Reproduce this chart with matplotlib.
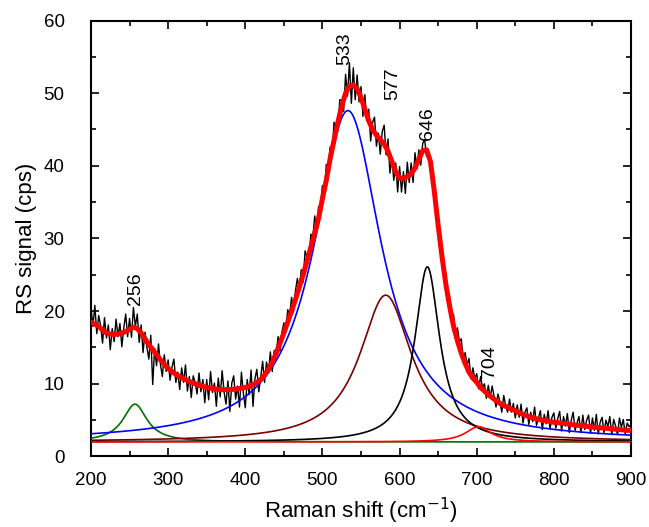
import numpy as np
import matplotlib
matplotlib.use("Agg")
import matplotlib.pyplot as plt

plt.rcParams['font.family'] = ['Liberation Sans', 'DejaVu Sans']

# measured spectrum, 2.5 cm-1 step from 200 to 900
shift_start, shift_step = 200.0, 2.5
signal = [
    20.5, 17.9, 20.8, 16.9, 19.4, 18.0, 15.6, 19.1, 16.3, 18.1, 14.7, 17.6, 15.8, 18.9, 16.5, 18.3, 15.1, 17.7, 19.6, 16.5,
    19.0, 16.4, 20.5, 17.9, 19.6, 15.7, 18.1, 14.3, 17.1, 15.0, 13.4, 16.7, 9.9, 14.9, 12.5, 15.5, 12.7, 11.0, 14.0, 11.7,
    13.3, 10.5, 12.3, 13.4, 10.2, 11.6, 9.2, 12.2, 10.2, 12.6, 9.0, 11.0, 8.1, 11.1, 10.2, 8.6, 11.5, 8.9, 10.6, 7.4,
    10.6, 7.8, 11.7, 8.8, 10.1, 6.9, 10.8, 8.2, 11.8, 8.9, 7.2, 10.4, 6.2, 10.1, 11.1, 7.9, 9.7, 6.8, 11.6, 8.7,
    6.7, 10.6, 8.5, 11.9, 6.9, 10.7, 12.0, 8.9, 10.9, 13.1, 10.2, 13.0, 11.5, 14.4, 11.7, 14.6, 14.0, 16.5, 14.5, 17.1,
    18.4, 17.2, 20.2, 19.5, 21.9, 19.9, 22.8, 24.5, 22.9, 25.7, 24.0, 28.3, 27.4, 27.1, 30.6, 30.1, 33.1, 31.2, 34.4, 34.5,
    37.3, 36.3, 40.2, 39.9, 42.6, 41.3, 46.0, 45.1, 44.8, 49.1, 49.0, 47.5, 52.6, 49.6, 54.2, 48.6, 53.5, 49.1, 52.5, 48.8,
    50.9, 46.8, 49.8, 46.2, 47.8, 43.4, 46.0, 46.7, 42.7, 44.5, 41.6, 44.7, 45.6, 41.5, 43.7, 39.0, 41.1, 38.0, 40.4, 36.4,
    39.9, 36.4, 39.2, 36.2, 40.5, 37.7, 40.4, 37.7, 41.8, 39.6, 42.2, 40.1, 43.1, 43.6, 41.3, 41.9, 40.2, 39.2, 36.2, 34.6,
    32.4, 29.4, 28.3, 25.8, 24.6, 21.8, 21.9, 19.8, 19.5, 16.7, 17.7, 15.8, 16.2, 13.2, 14.3, 12.6, 13.5, 10.7, 12.2, 10.7,
    11.4, 9.3, 11.0, 9.5, 10.0, 8.0, 9.8, 8.1, 9.7, 8.3, 6.8, 8.6, 7.6, 6.1, 8.4, 7.0, 6.1, 7.9, 6.1, 7.3,
    5.3, 7.1, 5.4, 7.2, 4.6, 6.1, 6.7, 4.4, 6.1, 4.8, 6.8, 4.3, 5.3, 6.3, 3.7, 5.8, 4.5, 6.3, 3.8, 5.4,
    6.0, 3.9, 5.2, 6.2, 3.5, 5.5, 4.2, 5.9, 3.3, 5.0, 6.1, 3.6, 4.6, 5.5, 3.3, 5.7, 3.7, 5.0, 5.7, 3.2,
    5.3, 3.6, 5.8, 3.1, 4.7, 5.4, 3.3, 5.0, 4.1, 5.5, 3.0, 5.1, 4.2, 3.0, 5.3, 4.0, 5.1, 3.1, 4.6, 4.1,
    4.4,
]

# cumulative fit (red), 5 cm-1 step
fit_step = 5.0
fit = [
    18.5, 18.2, 17.9, 17.4, 17.0, 16.85, 16.8, 16.85, 17.0, 17.2,
    17.5, 17.8, 17.6, 17.0, 16.2, 15.4, 14.7, 14.0, 13.3, 12.7,
    12.1, 11.7, 11.3, 11.0, 10.7, 10.45, 10.2, 10.0, 9.8, 9.65,
    9.5, 9.4, 9.3, 9.25, 9.2, 9.2, 9.2, 9.25, 9.3, 9.4,
    9.5, 9.65, 9.9, 10.2, 10.6, 11.2, 12.0, 13.0, 14.2, 15.6,
    17.0, 18.5, 20.0, 21.6, 23.3, 25.0, 26.9, 28.8, 30.7, 32.8,
    35.5, 38.0, 41.0, 43.5, 46.0, 48.2, 50.0, 51.0, 51.1, 50.6,
    49.4, 47.8, 46.2, 45.0, 44.2, 43.6, 43.0, 42.0, 40.6, 39.2,
    38.3, 38.3, 38.5, 38.9, 39.7, 40.9, 42.1, 42.2, 40.6, 36.5,
    31.8, 27.5, 23.7, 20.6, 17.9, 15.9, 14.2, 12.8, 11.6, 10.8,
    10.2, 9.5, 9.0, 8.5, 8.1, 7.7, 7.3, 7.0, 6.8, 6.5,
    6.3, 6.0, 5.8, 5.6, 5.4, 5.25, 5.1, 5.0, 4.9, 4.8,
    4.7, 4.65, 4.6, 4.5, 4.45, 4.35, 4.3, 4.25, 4.2, 4.1,
    4.05, 4.0, 3.95, 3.9, 3.85, 3.8, 3.75, 3.7, 3.65, 3.6,
    3.6,
]

# fitted peak components (Lorentzian): centre, height above baseline, HWHM
baseline = 2.0
peak_centre = [257, 533, 582, 636, 702]
peak_height = [5.2, 45.6, 20.2, 24.1, 2.1]
peak_hwhm = [19, 53, 41, 19.5, 20]
peak_color = ['#007000', '#0000ff', '#7a0000', '#000000', '#ff0000']

# peak labels
label_text = ['256', '533', '577', '646', '704']
label_x = [258, 529, 591, 636, 717]
label_y = [20.9, 53.9, 49.1, 43.6, 10.8]

x_sig = shift_start + shift_step * np.arange(len(signal))
x_fit = shift_start + fit_step * np.arange(len(fit))
x_fine = np.linspace(200, 900, 1401)

fig = plt.figure(figsize=(6.49, 5.27), dpi=100)
ax = fig.add_axes([0.1402, 0.1338, 0.8321, 0.8273])

ax.plot(x_sig, signal, color='black', lw=1.0, zorder=2)
for c, h, w, col in zip(peak_centre, peak_height, peak_hwhm, peak_color):
    ax.plot(x_fine, baseline + h / (1 + ((x_fine - c) / w) ** 2), color=col, lw=1.2, zorder=3)
ax.plot(x_fit, fit, color='#ff0000', lw=3.6, zorder=4, solid_capstyle='round')

for t, lx, ly in zip(label_text, label_x, label_y):
    ax.text(lx, ly, t, rotation=90, ha='center', va='bottom', fontsize=14)

ax.set_xlim(200, 900)
ax.set_ylim(0, 60)
ax.set_xticks(np.arange(200, 901, 100))
ax.set_xticks(np.arange(250, 900, 100), minor=True)
ax.set_yticks(np.arange(0, 61, 10))
ax.set_yticks(np.arange(5, 60, 10), minor=True)
ax.tick_params(which='both', direction='in', top=True, right=True, width=1.2, labelsize=13.5)
ax.tick_params(which='major', length=6)
ax.tick_params(which='minor', length=3.5)
ax.tick_params(axis='x', which='major', pad=11)
ax.tick_params(axis='y', which='major', pad=19)
for s in ax.spines.values():
    s.set_linewidth(1.5)

ax.set_xlabel('Raman shift (cm$^{-1}$)', fontsize=16, labelpad=5)
ax.set_ylabel('RS signal (cps)', fontsize=16, labelpad=5)

fig.savefig('out.png', dpi=100)
